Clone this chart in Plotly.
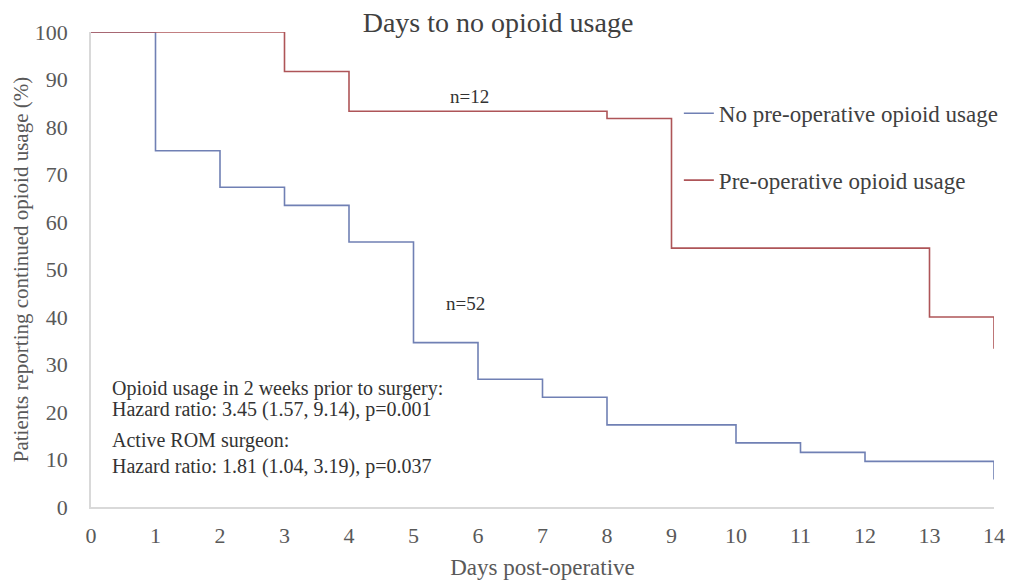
import plotly.graph_objects as go

# Kaplan-Meier style step data: day of change and % still using opioids
days_no_preop = [0, 1, 2, 3, 4, 5, 6, 7, 8, 10, 11, 12, 14]
pct_no_preop = [100, 75.0, 67.3, 63.5, 55.8, 34.6, 26.9, 23.1, 17.3, 13.5, 11.5, 9.6, 5.8]

days_preop = [0, 3, 4, 8, 9, 13, 14]
pct_preop = [100, 91.7, 83.3, 81.8, 54.5, 40.0, 33.3]

x_ticks = list(range(0, 15))
y_ticks = list(range(0, 101, 10))

FONT = "Liberation Serif, Times New Roman, serif"
BLUE = "#7080B4"
RED = "#AE5558"
TEXT = "#595959"
DARK = "#333333"

fig = go.Figure()
fig.add_trace(go.Scatter(
    x=days_no_preop, y=pct_no_preop, mode="lines", line_shape="hv",
    line=dict(color=BLUE, width=1.6), name="No pre-operative opioid usage",
    legend="legend",
))
fig.add_trace(go.Scatter(
    x=days_preop, y=pct_preop, mode="lines", line_shape="hv",
    line=dict(color=RED, width=1.6), name="Pre-operative opioid usage",
    legend="legend2",
))

legend_style = dict(xanchor="left", yanchor="middle", bgcolor="rgba(0,0,0,0)",
                    itemwidth=30, font=dict(size=23, color="#404040"))

fig.update_layout(
    width=1011, height=582,
    margin=dict(l=91, r=17, t=32, b=75, autoexpand=False),
    paper_bgcolor="white", plot_bgcolor="white",
    font=dict(family=FONT, size=22, color=TEXT),
    title=dict(text="Days to no opioid usage", x=0.4926, xanchor="center",
               y=0.962, yanchor="middle", font=dict(size=28, color="#404040")),
    legend=dict(x=0.651, y=0.829, **legend_style),
    legend2=dict(x=0.651, y=0.688, **legend_style),
    showlegend=True,
)

fig.update_xaxes(
    range=[0, 14], tickvals=x_ticks, showgrid=False, zeroline=False,
    showline=True, linecolor="#D9D9D9", linewidth=1.5, ticks="",
    tickfont=dict(size=22, color=TEXT), ticklabelstandoff=8, automargin=False,
    title=dict(text="Days post-operative", font=dict(size=23, color=TEXT), standoff=12),
)
fig.update_yaxes(
    range=[0, 100], tickvals=y_ticks, showgrid=False, zeroline=False,
    showline=True, linecolor="#D9D9D9", linewidth=1.5, ticks="",
    tickfont=dict(size=22, color=TEXT), ticklabelstandoff=17, automargin=False,
    title=dict(text="Patients reporting continued opioid usage (%)",
               font=dict(size=21, color=TEXT), standoff=0),
)

fig.add_annotation(x=5.87, y=86.5, text="n=12", showarrow=False,
                   font=dict(size=19, color=DARK))
fig.add_annotation(x=5.8, y=42.9, text="n=52", showarrow=False,
                   font=dict(size=19, color=DARK))

stats_lines = [
    ("Opioid usage in 2 weeks prior to surgery:", 25.0),
    ("Hazard ratio: 3.45 (1.57, 9.14), p=0.001", 20.6),
    ("Active ROM surgeon:", 14.1),
    ("Hazard ratio: 1.81 (1.04, 3.19), p=0.037", 8.6),
]
for line, ypos in stats_lines:
    fig.add_annotation(x=0.29, y=ypos, xanchor="left", yanchor="middle",
                       showarrow=False, text=line,
                       font=dict(size=20, color=DARK))

fig.write_html("out.html")
